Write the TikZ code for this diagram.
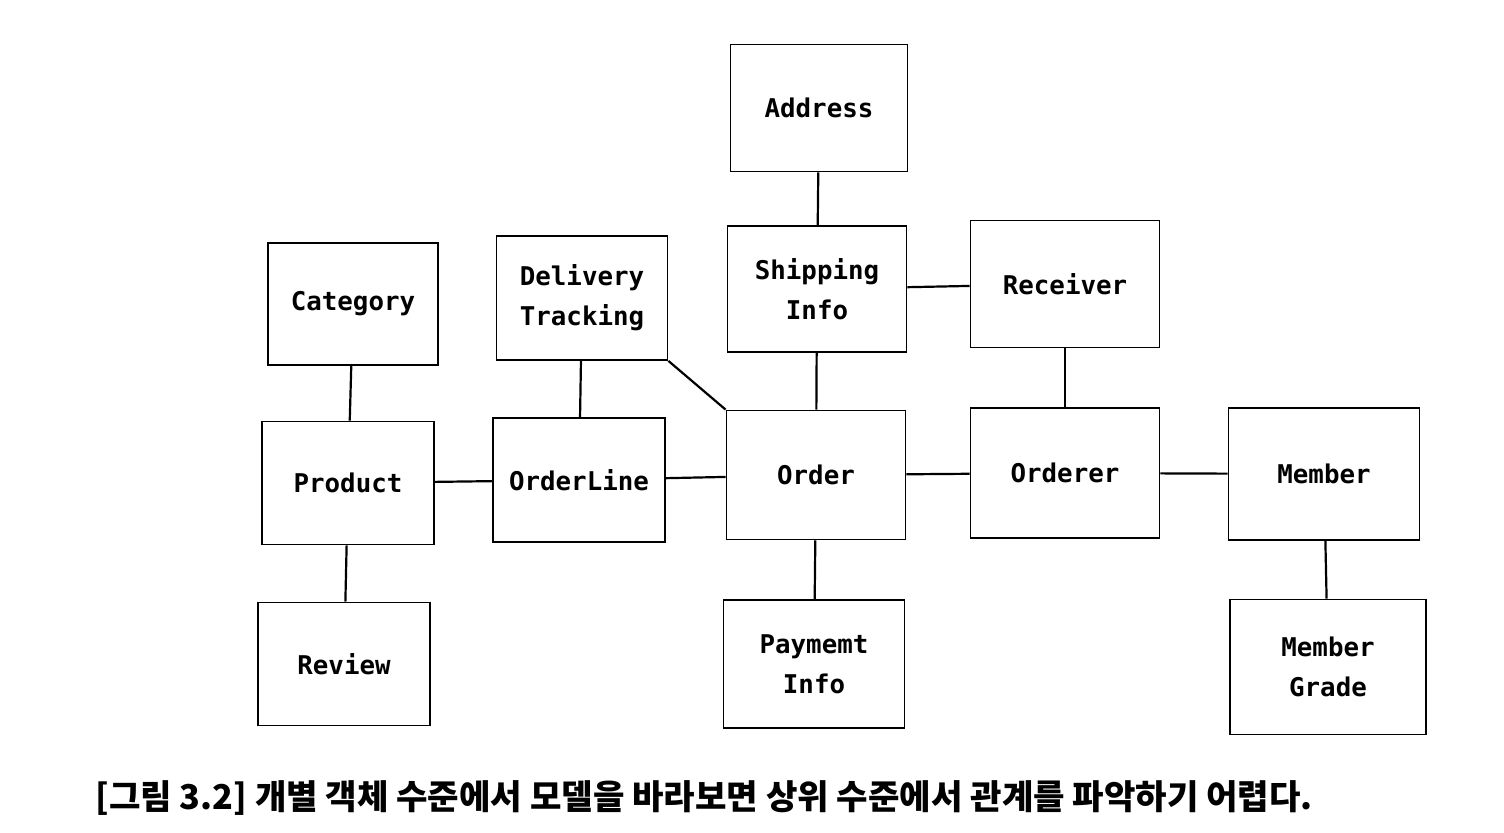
\documentclass[tikz,border=0pt]{standalone}
\usepackage{fontspec}
\newfontfamily\mono{DejaVu Sans Mono}
\newfontfamily\kor{Noto Sans CJK KR}
\tikzset{>=stealth}
\tikzset{
  entity/.style={draw, line width=0.9pt, align=center, inner sep=0pt,
    font={\mono\bfseries\fontsize{12.9}{20}\selectfont},
    minimum width=86pt, minimum height=62pt},
  link/.style={line width=1.1pt}
}

\begin{document}
\begin{tikzpicture}[x=0.5pt,y=-0.5pt]
\useasboundingbox (0,0) rectangle (1504,832);
\node[entity, minimum width=88.5pt, minimum height=63.5pt] (addr) at (819,108) {Address};
\node[entity, minimum width=85pt, minimum height=61pt] (cat) at (353,304) {Category};
\node[entity, minimum width=85.5pt] (dlv) at (582,298) {Delivery\\Tracking};
\node[entity, minimum width=89.5pt, minimum height=63pt] (ship) at (817,289) {Shipping\\Info};
\node[entity, minimum width=94.5pt, minimum height=63.5pt] (rcv) at (1065,284) {Receiver};
\node[entity, minimum height=61.5pt] (prod) at (348,483) {Product};
\node[entity] (line) at (579,480) {OrderLine};
\node[entity, minimum width=89.5pt, minimum height=64.5pt] (ord) at (816,475) {Order};
\node[entity, minimum width=94.5pt, minimum height=65pt] (orderer) at (1065,473) {Orderer};
\node[entity, minimum width=95.5pt, minimum height=66pt] (mem) at (1324,474) {Member};
\node[entity, minimum height=61.5pt] (rev) at (344,664) {Review};
\node[entity, minimum width=90.5pt, minimum height=64pt] (pay) at (814,664) {Paymemt\\Info};
\node[entity, minimum width=98pt, minimum height=67.5pt] (grade) at (1328,667) {Member\\Grade};
% relations
\draw[link] (addr) -- (ship);
\draw[link] (ship) -- (ord);
\draw[link] (ship) -- (rcv);
\draw[link] (rcv) -- (orderer);
\draw[link] (cat) -- (prod);
\draw[link] (prod) -- (rev);
\draw[link] (prod) -- (line);
\draw[link] (dlv) -- (line);
\draw[link] (dlv.south east) -- (ord.north west);
\draw[link] (line) -- (ord);
\draw[link] (ord) -- (orderer);
\draw[link] (ord) -- (pay);
\draw[link] (orderer) -- (mem);
\draw[link] (mem) -- (grade);
\node[anchor=base west, inner sep=0pt, font={\kor\bfseries\fontsize{17.1}{17.1}\selectfont}] (cap) at (95,809)
  {[그림 3.2] 개별 객체 수준에서 모델을 바라보면 상위 수준에서 관계를 파악하기 어렵다.};
\end{tikzpicture}
\end{document}
